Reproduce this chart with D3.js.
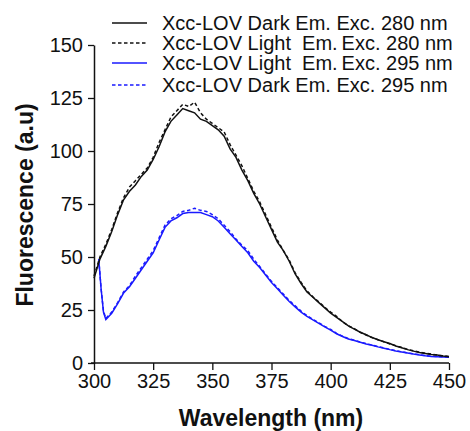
<!DOCTYPE html>
<html><head><meta charset="utf-8">
<script src="https://cdn.jsdelivr.net/npm/d3@7/dist/d3.min.js"></script>
<style>
html,body{margin:0;padding:0;background:#fff;}
svg text{font-family:"Liberation Sans",Arial,Helvetica,sans-serif;fill:#111;}
</style></head>
<body><svg id="c" width="470" height="431"></svg>
<script>
// wavelengths (nm) for the 280 nm excitation series
const wl280 = [300,302.5,305,307.5,310,312.5,315,317.5,320,322.5,325,327.5,330,332.5,335,337.5,340,342.5,345,347.5,350,352.5,355,357.5,360,362.5,365,367.5,370,372.5,375,377.5,380,382.5,385,387.5,390,392.5,395,397.5,400,402.5,405,407.5,410,412.5,415,417.5,420,422.5,425,427.5,430,432.5,435,437.5,440,442.5,445,447.5,450];
const darkEm280 = [40,49,55,62,70,77,81,84,88,91,96,102,109,114,117,120,119,118,115,114,112,110,107,101,97,91,86,80,75,69,63,57,53,48,42,37.5,33.5,31,28.5,26,23.5,21.5,19.5,17.5,16,14.5,13.3,12,11,10,9.2,8,7.2,6.3,5.6,5,4.5,4,3.8,3.3,3];
const lightEm280 = [41,50,56,63,71,78,83,86,89,92,97,104,110,116,119,122,121,123,118,115,113,111,109,103,98,93,87,81,76,70,64,58,53,48.5,42.5,38,34,31.2,28.8,26.3,24,22,19.5,17.5,16.2,14.5,13.2,12,11,10,9,8.2,7.3,6.4,5.8,5.1,4.6,4.2,3.7,3.4,3.1];
// wavelengths (nm) for the 295 nm excitation series
const wl295 = [302,303,304,305,307.5,310,312.5,315,317.5,320,322.5,325,327.5,330,332.5,335,337.5,340,342.5,345,347.5,350,352.5,355,357.5,360,362.5,365,367.5,370,372.5,375,377.5,380,382.5,385,387.5,390,392.5,395,397.5,400,402.5,405,407.5,410,412.5,415,417.5,420,422.5,425,427.5,430,432.5,435,437.5,440,442.5,445,447.5,450];
const lightEm295 = [49,35,24,20.5,23.5,28,33,36,40,44,48,52,58,64,67,68.5,70.5,71,71,71,70,69,67,64,61,58,55,52,48,45,41.5,38,35,32,29,26.5,24,22,20.3,18.7,17,15.5,13.8,12.5,11.3,10.6,9.8,9,8.4,7.6,7,6.3,5.7,5.2,4.7,4.2,3.8,3.4,3.1,3,2.8,2.7];
const darkEm295 = [49,35,24.5,21,24,28.5,33.5,36.5,41,45,49,53,59,65,68,69.5,71.5,72,73,72,71.5,70,68,65,62,58.5,55.5,53,49,45.5,42,38.5,35.5,32.5,29.5,27,24.5,22.3,20.6,19,17.3,15.8,14,12.7,11.5,10.7,9.9,9.1,8.5,7.7,7.1,6.4,5.8,5.3,4.8,4.3,3.9,3.5,3.2,3.1,2.9,2.8];

const xTicks = [300,325,350,375,400,425,450];
const yTicks = [0,25,50,75,100,125,150];
const seriesNames = ["Xcc-LOV Dark Em. Exc. 280 nm","Xcc-LOV Light\u00a0 Em.\u2009Exc. 280 nm","Xcc-LOV Light\u00a0 Em.\u2009Exc. 295 nm","Xcc-LOV Dark Em. Exc. 295 nm"];

const series = [
  {name:seriesNames[0], x:wl280, y:darkEm280, color:"#111", dash:null},
  {name:seriesNames[1], x:wl280, y:lightEm280, color:"#111", dash:"3.5,2.5"},
  {name:seriesNames[2], x:wl295, y:lightEm295, color:"#1a1aff", dash:null},
  {name:seriesNames[3], x:wl295, y:darkEm295, color:"#1a1aff", dash:"3.5,2.5"}
];

const svg = d3.select("#c");
const x = d3.scaleLinear().domain([300,450]).range([94,449]);
const y = d3.scaleLinear().domain([0,150]).range([363,45]);

// curves (draw blue first, then black)
const line = d3.line().x(d=>x(d[0])).y(d=>y(d[1]));
[3,2,1,0].forEach(i=>{
  const s = series[i];
  svg.append("path")
    .datum(s.x.map((v,k)=>[v,s.y[k]]))
    .attr("d",line)
    .attr("fill","none")
    .attr("stroke",s.color)
    .attr("stroke-width",1.5)
    .attr("stroke-dasharray",s.dash);
});

// axes
const xAxis = svg.append("g").attr("transform",`translate(0,${y(0)})`)
  .call(d3.axisBottom(x).tickValues(xTicks).tickSize(7).tickPadding(4).tickSizeOuter(0));
const yAxis = svg.append("g").attr("transform",`translate(${x(300)},0)`)
  .call(d3.axisLeft(y).tickValues(yTicks).tickSize(6).tickPadding(5).tickSizeOuter(0));
[xAxis,yAxis].forEach(g=>{
  g.select(".domain").attr("stroke","#111").attr("stroke-width",1.5);
  g.selectAll(".tick line").attr("stroke","#111").attr("stroke-width",1.3);
  g.selectAll(".tick text").attr("font-size",20).attr("font-family","Liberation Sans, Arial, sans-serif").attr("fill","#111");
});
xAxis.select(".domain").attr("d",`M${x(300)-3},0H${x(450)}`);

// axis titles
svg.append("text").attr("x",271).attr("y",426).attr("text-anchor","middle")
  .attr("font-size",23).attr("font-weight","bold").text("Wavelength (nm)");
svg.append("text").attr("transform","translate(33,205) rotate(-90)").attr("text-anchor","middle")
  .attr("font-size",23).attr("font-weight","bold").text("Fluorescence (a.u)");

// legend
const legY = [23,43,63,85];
const leg = svg.append("g");
series.forEach((s,i)=>{
  leg.append("line").attr("x1",112).attr("x2",147).attr("y1",legY[i]).attr("y2",legY[i])
    .attr("stroke",s.color).attr("stroke-width",1.5).attr("stroke-dasharray",s.dash);
  leg.append("text").attr("x",162).attr("y",legY[i]+7).attr("font-size",20).text(s.name);
});
</script></body></html>
